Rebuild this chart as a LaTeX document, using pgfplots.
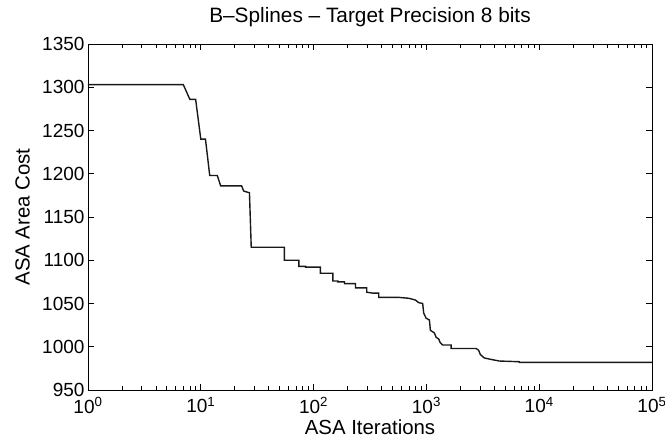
\documentclass[border=0pt]{standalone}
\usepackage{fontspec}
\setmainfont{Liberation Sans}
\usepackage{pgfplots}
\pgfplotsset{compat=1.18}
\begin{document}
\begin{tikzpicture}
\begin{axis}[
    at={(0,0)}, anchor=south west,
    scale only axis,
    width=564pt, height=346pt,
    xmode=log,
    xmin=1, xmax=100000,
    ymin=950, ymax=1350,
    xtick={1,10,100,1000,10000,100000},
    xticklabels={10\textsuperscript{0},10\textsuperscript{1},10\textsuperscript{2},10\textsuperscript{3},10\textsuperscript{4},10\textsuperscript{5}},
    ytick={950,1000,1050,1100,1150,1200,1250,1300,1350},
    /pgf/number format/assume math mode=true,
    /pgf/number format/1000 sep={},
    tick align=inside,
    major tick length=6pt,
    minor tick length=3.5pt,
    tick style={black, line width=0.7pt},
    axis line style={black, line width=0.9pt},
    tick label style={font=\fontsize{19}{22}\selectfont},
    xticklabel style={yshift=-4pt},
    title={B–Splines – Target Precision 8 bits},
    title style={font=\fontsize{20.8}{24}\selectfont, at={(axis description cs:0.5,1)}, anchor=base, yshift=16pt, inner sep=0pt},
    xlabel={ASA Iterations},
    xlabel style={font=\fontsize{20.4}{24}\selectfont, at={(axis description cs:0.5,0)}, anchor=north, yshift=-30pt, inner sep=0pt},
    ylabel={ASA Area Cost},
    ylabel style={font=\fontsize{20.4}{24}\selectfont, at={(axis description cs:-0.1028,0.5)}, anchor=south, rotate=0, inner sep=0pt},
]
\addplot[black!90, line width=1.4pt] coordinates {
    (1,1303) (7,1303) (8,1286) (9,1286) (10,1240) (11,1240) (12,1198)
    (14,1198) (15,1186) (23,1186) (24,1180) (27,1178) (28,1115)
    (55,1115) (55,1100) (74,1100) (74,1093) (85,1093) (85,1092)
    (115,1092) (115,1085) (148,1085) (148,1076) (164,1076) (164,1075)
    (188,1075) (188,1073) (235,1073) (235,1068) (296,1068) (296,1063)
    (335,1062) (378,1062) (378,1057) (577,1057) (700,1056) (800,1054)
    (855,1051) (927,1050) (946,1039) (994,1033) (1063,1031) (1085,1019)
    (1177,1016) (1218,1011) (1285,1009) (1322,1005) (1394,1002)
    (1655,1002) (1655,998) (2754,998) (2904,996) (3006,991) (3262,987)
    (3864,985) (4427,983.5) (6653,982.7) (6653,982) (100000,982)
};
\end{axis}
\pgfresetboundingbox
\path (-88pt,-52pt) rectangle (577pt,390pt);
\end{tikzpicture}
\end{document}
